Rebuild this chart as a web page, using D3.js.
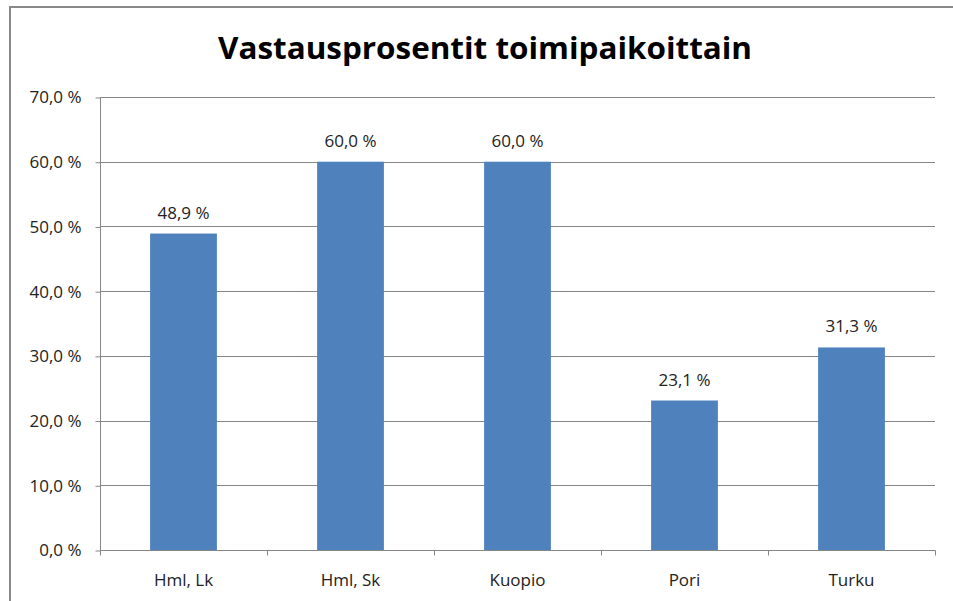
<!DOCTYPE html>
<html><head><meta charset="utf-8">
<script src="https://cdn.jsdelivr.net/npm/d3@7"></script>
<style>body{margin:0;background:#fff}svg{display:block}</style>
</head><body>
<svg id="c" width="953" height="601"></svg>
<script>
const categories = ["Hml, Lk", "Hml, Sk", "Kuopio", "Pori", "Turku"];
const values = [48.9, 60.0, 60.0, 23.1, 31.3];
const yTicks = [0, 10, 20, 30, 40, 50, 60, 70];
const title = "Vastausprosentit toimipaikoittain";

(function () {
const svg = d3.select("#c");
const font = "'Open Sans', 'Liberation Sans', sans-serif";
const fmt = v => v.toFixed(1).replace(".", ",") + " %";

// outer border
svg.append("rect").attr("x", 10).attr("y", 7).attr("width", 960).attr("height", 620)
  .attr("fill", "none").attr("stroke", "#898989").attr("stroke-width", 2);

const pLeft = 100, pRight = 935, pTop = 97, pBottom = 550;
const x = d3.scaleBand().domain(categories).range([pLeft, pRight]).paddingInner(0.6).paddingOuter(0.3);
const y = d3.scaleLinear().domain([0, 70]).range([pBottom, pTop]);

// gridlines
svg.append("g").selectAll("line").data(yTicks.filter(d => d > 0)).join("line")
  .attr("x1", pLeft).attr("x2", pRight)
  .attr("y1", d => Math.round(y(d)) + 0.5).attr("y2", d => Math.round(y(d)) + 0.5)
  .attr("stroke", "#868686").attr("stroke-width", 1);

// bars
svg.append("g").selectAll("rect").data(values).join("rect")
  .attr("x", (d, i) => x(categories[i])).attr("width", x.bandwidth())
  .attr("y", d => y(d)).attr("height", d => y(0) - y(d))
  .attr("fill", "#4F81BD");

// y axis
const yAxis = d3.axisLeft(y).tickValues(yTicks).tickFormat(fmt).tickSize(5).tickPadding(14);
const gy = svg.append("g").attr("transform", `translate(${pLeft + 0.5},0.5)`).call(yAxis);
gy.select(".domain").attr("stroke", "#868686").attr("d", `M0,${pTop}V${pBottom}`);
gy.selectAll(".tick line").attr("stroke", "#868686");
gy.selectAll("text").attr("font-family", font).attr("font-size", 17).attr("fill", "#222");

// x axis
const band = (pRight - pLeft) / categories.length;
const gx = svg.append("g").attr("transform", `translate(0,${pBottom + 0.5})`);
gx.append("line").attr("x1", pLeft).attr("x2", pRight + 0.5).attr("stroke", "#868686");
gx.selectAll("line.t").data(d3.range(categories.length + 1)).join("line").attr("class", "t")
  .attr("x1", i => Math.round(pLeft + i * band) + 0.5).attr("x2", i => Math.round(pLeft + i * band) + 0.5)
  .attr("y1", 0).attr("y2", 5).attr("stroke", "#868686");
gx.selectAll("text").data(categories).join("text")
  .attr("x", d => x(d) + x.bandwidth() / 2).attr("y", 35)
  .attr("text-anchor", "middle").attr("font-family", font).attr("font-size", 17).attr("fill", "#222")
  .text(d => d);

// value labels
svg.append("g").selectAll("text").data(values).join("text")
  .attr("x", (d, i) => x(categories[i]) + x.bandwidth() / 2).attr("y", d => y(d) - 15)
  .attr("text-anchor", "middle").attr("font-family", font).attr("font-size", 17).attr("fill", "#222")
  .text(d => fmt(d));

// title
svg.append("text").attr("x", 485).attr("y", 59).attr("text-anchor", "middle")
  .attr("font-family", font).attr("font-weight", "bold").attr("font-size", 30).attr("fill", "#000")
  .attr("textLength", 534).attr("lengthAdjust", "spacingAndGlyphs")
  .text(title);
})();
</script>
</body></html>
